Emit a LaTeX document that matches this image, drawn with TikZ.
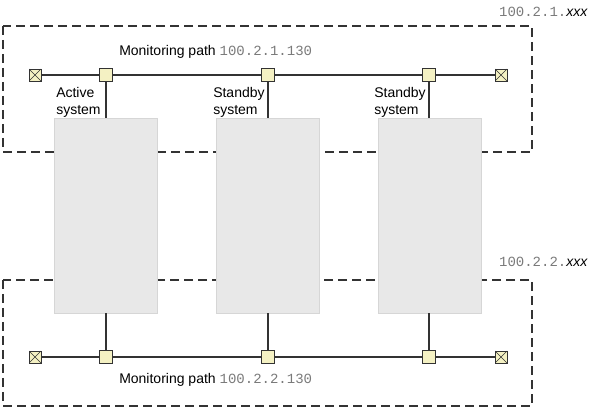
\documentclass[tikz,border=0pt]{standalone}
\usepackage{fontspec}
\setmainfont{Liberation Sans}
\setmonofont{Liberation Mono}
\usepackage{tikz}
\usetikzlibrary{positioning}
\definecolor{zgray}{HTML}{333333}
\definecolor{sysfill}{HTML}{E8E8E8}
\definecolor{sysline}{HTML}{D6D6D6}
\definecolor{portfill}{HTML}{F4F1C3}
\definecolor{ipgray}{HTML}{7A7A7A}
\newcommand{\ipaddr}[1]{{\color{ipgray}\texttt{#1}}}

\begin{document}
\begin{tikzpicture}[x=0.75pt,y=-0.75pt,font=\fontsize{10.5}{12.75}\selectfont,
  zone/.style={draw=zgray,line width=1.5pt,dash pattern=on 6.75pt off 3.75pt},
  sysbox/.style={draw=sysline,fill=sysfill,minimum width=77.25pt,minimum height=146.25pt,inner sep=0pt},
  port/.style={draw=zgray,fill=portfill,minimum size=9.75pt,inner sep=0pt},
  term/.style={draw=zgray,fill=portfill,minimum size=9pt,inner sep=0pt,
    path picture={\draw[zgray,line width=0.5pt]
      (path picture bounding box.north west) -- (path picture bounding box.south east)
      (path picture bounding box.south west) -- (path picture bounding box.north east);}},
  wire/.style={draw=zgray,line width=0.9pt},
  lbl/.style={inner sep=0pt,align=left}]
  \useasboundingbox (0,0) rectangle (593,409);
  % ---- network zones ----
  \draw[zone] (3,26) rectangle (532,152);
  \draw[zone] (3,280) rectangle (532,406);
  \node[lbl,anchor=base east] (net1) at (588,17) {\ipaddr{100.2.1.}\textit{xxx}};
  \node[lbl,anchor=base east] (net2) at (588,267) {\ipaddr{100.2.2.}\textit{xxx}};
  % ---- systems ----
  \node[sysbox] (sys1) at (105.5,215.5) {};
  \node[sysbox] (sys2) at (267.5,215.5) {};
  \node[sysbox] (sys3) at (430,215.5) {};
  % ---- top monitoring path ----
  \node[term] (tA) at (35,75) {};
  \node[port] (pA1) at (106,75) {};
  \node[port] (pA2) at (268,75) {};
  \node[port] (pA3) at (429,75) {};
  \node[term] (tB) at (501,75) {};
  \draw[wire] (tA) -- (pA1) -- (pA2) -- (pA3) -- (tB);
  \draw[wire] (pA1) -- (pA1 |- sys1.north);
  \draw[wire] (pA2) -- (pA2 |- sys2.north);
  \draw[wire] (pA3) -- (pA3 |- sys3.north);
  \node[lbl,anchor=base west] (path1) at (119,56) {Monitoring path \ipaddr{100.2.1.130}};
  \node[lbl,anchor=north west] (name1) at (56,87) {Active\\system};
  \node[lbl,anchor=north west] (name2) at (213,87) {Standby\\system};
  \node[lbl,anchor=north west] (name3) at (374,87) {Standby\\system};
  % ---- bottom monitoring path ----
  \node[term] (tC) at (35,357) {};
  \node[port] (pB1) at (106,357) {};
  \node[port] (pB2) at (268,357) {};
  \node[port] (pB3) at (429,357) {};
  \node[term] (tD) at (501,357) {};
  \draw[wire] (tC) -- (pB1) -- (pB2) -- (pB3) -- (tD);
  \draw[wire] (pB1) -- (pB1 |- sys1.south);
  \draw[wire] (pB2) -- (pB2 |- sys2.south);
  \draw[wire] (pB3) -- (pB3 |- sys3.south);
  \node[lbl,anchor=base west] (path2) at (119,384) {Monitoring path \ipaddr{100.2.2.130}};
\end{tikzpicture}
\end{document}
